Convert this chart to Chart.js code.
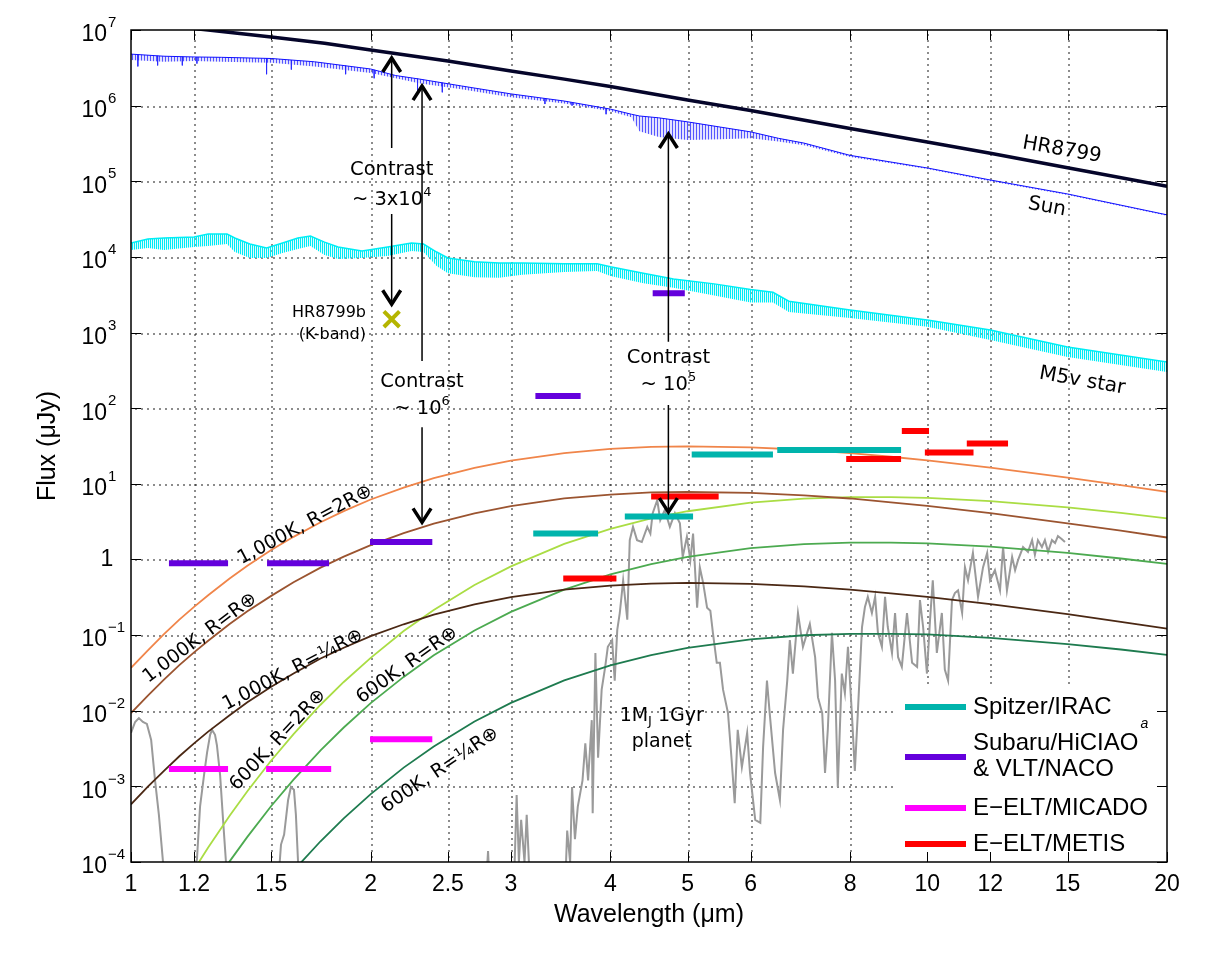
<!DOCTYPE html>
<html>
<head>
<meta charset="utf-8">
<title>Flux vs wavelength</title>
<script src="https://cdn.jsdelivr.net/npm/chart.js@4.4.1/dist/chart.umd.min.js"></script>
<style>
  body { margin: 0; background: #fff; }
  canvas { display: block; }
</style>
</head>
<body>
<canvas id="fluxChart" width="1218" height="953"></canvas>
<script>
// Wavelength in um, flux in uJy

const xTicks = [1, 1.2, 1.5, 2, 2.5, 3, 4, 5, 6, 8, 10, 12, 15, 20];
const yExponents = [-4, -3, -2, -1, 0, 1, 2, 3, 4, 5, 6, 7];

// HR8799 star
const hrWave = [1.2, 1.25, 1.5, 1.75, 2, 2.5, 3, 3.5, 4, 5, 6, 8, 10, 12, 15, 20];
const hrFlux = [1.05e7, 1.0e7, 8.1e6, 6.7e6, 5.45e6, 3.9e6, 2.87e6, 2.24e6, 1.79e6, 1.19e6, 8.6e5, 5.0e5, 3.3e5, 2.34e5, 1.51e5, 8.6e4];

// Sun: continuum and bottom of the absorption lines
const sunWave = [1.0, 1.1, 1.2, 1.3, 1.5, 1.7, 2.0, 2.15, 2.3, 2.6, 3.0, 3.5, 4.0, 4.25, 4.35, 4.6, 5.0, 5.5, 6.0, 6.5, 7.0, 8.0, 10, 12, 15, 20];
const sunTop = [4.8e6, 4.5e6, 4.4e6, 4.35e6, 4.2e6, 3.8e6, 3.05e6, 2.5e6, 2.25e6, 1.82e6, 1.43e6, 1.15e6, 9.0e5, 7.7e5, 7.3e5, 6.9e5, 6.1e5, 5.2e5, 4.5e5, 3.7e5, 3.2e5, 2.2e5, 1.5e5, 1.04e5, 6.8e4, 3.6e4];
const sunLow = [4.0e6, 3.8e6, 3.9e6, 3.8e6, 3.7e6, 3.3e6, 2.7e6, 2.3e6, 1.98e6, 1.65e6, 1.29e6, 1.07e6, 8.4e5, 7.0e5, 4.6e5, 3.85e5, 3.5e5, 3.6e5, 3.7e5, 3.35e5, 3.0e5, 2.1e5, 1.45e5, 1.0e5, 6.6e4, 3.5e4];

// a few of the deeper solar absorption lines: wavelength, flux at line bottom
const sunLineWave = [1.02, 1.08, 1.16, 1.21, 1.48, 1.59, 1.86, 2.02, 2.29, 2.46, 3.31, 3.58, 3.95];
const sunLineFlux = [3.3e6, 3.4e6, 3.4e6, 3.6e6, 2.6e6, 3.0e6, 2.6e6, 2.3e6, 1.55e6, 1.5e6, 1.05e6, 1.0e6, 7.7e5];

// M5v star: upper and lower edge of the spectrum band
const m5Wave = [1.0, 1.05, 1.1, 1.2, 1.25, 1.32, 1.35, 1.41, 1.48, 1.55, 1.62, 1.68, 1.75, 1.82, 1.95, 2.1, 2.25, 2.33, 2.42, 2.5, 2.7, 2.9, 3.1, 3.5, 3.85, 4.0, 4.4, 4.8, 5.4, 6.0, 6.4, 6.7, 8, 10, 12, 15, 20];
const m5Top = [1.53e4, 1.73e4, 1.78e4, 1.83e4, 2.01e4, 2.01e4, 1.78e4, 1.48e4, 1.31e4, 1.53e4, 1.78e4, 1.89e4, 1.57e4, 1.35e4, 1.20e4, 1.35e4, 1.53e4, 1.48e4, 1.16e4, 9.7e3, 8.6e3, 8.3e3, 8.3e3, 8.1e3, 8.1e3, 7.4e3, 6.1e3, 5.1e3, 4.4e3, 3.7e3, 3.4e3, 2.6e3, 1.99e3, 1.47e3, 1.08e3, 645, 408];
const m5Low = [1.23e4, 1.31e4, 1.23e4, 1.35e4, 1.39e4, 1.48e4, 1.16e4, 9.7e3, 9.7e3, 1.13e4, 1.27e4, 1.39e4, 1.06e4, 9.4e3, 9.7e3, 1.03e4, 1.20e4, 1.16e4, 7.6e3, 6.1e3, 5.4e3, 5.3e3, 5.8e3, 6.3e3, 6.5e3, 5.6e3, 4.5e3, 3.9e3, 3.1e3, 2.5e3, 2.5e3, 1.87e3, 1.56e3, 1.19e3, 798, 475, 301];

// blackbody planets
const modelWave = [1.0, 1.05, 1.1, 1.15, 1.2, 1.25, 1.33, 1.4, 1.5, 1.6, 1.73, 1.85, 2.0, 2.2, 2.4, 2.7, 3.0, 3.5, 4.0, 4.5, 5.0, 6.0, 7.0, 8.0, 9.0, 10, 12, 15, 17.5, 20];
const bb1000R2 = [0.037, 0.063, 0.103, 0.16, 0.236, 0.337, 0.56, 0.825, 1.33, 1.99, 3.1, 4.35, 6.2, 8.9, 11.9, 16.3, 20.3, 25.5, 28.9, 30.7, 31.3, 30.4, 28.2, 25.5, 22.8, 20.4, 16.4, 12.1, 9.6, 7.8];
const bb1000R1 = [0.0093, 0.0158, 0.0258, 0.04, 0.059, 0.084, 0.14, 0.206, 0.33, 0.5, 0.78, 1.09, 1.55, 2.23, 2.98, 4.07, 5.08, 6.4, 7.2, 7.7, 7.8, 7.6, 7.05, 6.4, 5.7, 5.1, 4.1, 3.0, 2.4, 1.95];
const bb1000Rq = [5.8e-4, 9.9e-4, 1.6e-3, 2.5e-3, 3.7e-3, 5.3e-3, 8.7e-3, 0.0129, 0.0207, 0.031, 0.049, 0.068, 0.097, 0.139, 0.186, 0.254, 0.317, 0.4, 0.45, 0.48, 0.49, 0.475, 0.44, 0.40, 0.356, 0.32, 0.256, 0.189, 0.15, 0.122];
const bb600R2 = [null, null, null, null, 7.9e-5, 1.55e-4, 4.1e-4, 8.6e-4, 2.2e-3, 4.9e-3, 0.012, 0.024, 0.05, 0.113, 0.215, 0.46, 0.81, 1.61, 2.54, 3.48, 4.34, 5.64, 6.37, 6.67, 6.68, 6.5, 5.9, 4.88, 4.13, 3.5];
const bb600R1 = [null, null, null, null, null, 3.9e-5, 1.02e-4, 2.15e-4, 5.5e-4, 1.23e-3, 3.0e-3, 6.0e-3, 0.0126, 0.028, 0.054, 0.115, 0.203, 0.40, 0.635, 0.87, 1.085, 1.41, 1.59, 1.67, 1.67, 1.63, 1.48, 1.22, 1.03, 0.875];
const bb600Rq = [null, null, null, null, null, null, null, null, 3.4e-5, 7.7e-5, 1.88e-4, 3.77e-4, 7.9e-4, 1.77e-3, 3.36e-3, 7.2e-3, 0.0127, 0.0252, 0.0397, 0.0544, 0.0678, 0.088, 0.0995, 0.104, 0.104, 0.102, 0.092, 0.076, 0.0645, 0.0547];

// 1 Mj, 1 Gyr planet model spectrum (5e-5 = off the bottom of the plot)
const planetWave = [1.000, 1.012, 1.023, 1.035, 1.047, 1.060, 1.072, 1.084, 1.097, 1.10, 1.17, 1.210, 1.221, 1.235, 1.246, 1.257, 1.264, 1.275, 1.282, 1.294, 1.305, 1.316, 1.323,
  1.530, 1.543, 1.557, 1.575, 1.588, 1.602, 1.611, 1.621, 1.63, 2.792, 2.808, 2.82, 3.027, 3.05, 3.07, 3.09, 3.12, 3.14, 3.17, 3.51, 3.53, 3.56,
  3.58, 3.61, 3.64, 3.69, 3.72, 3.75, 3.79, 3.80, 3.83, 3.86, 3.90, 3.94, 3.97, 4.02, 4.05, 4.08, 4.11, 4.15, 4.20, 4.23, 4.27, 4.32, 4.38, 4.45,
  4.49, 4.52, 4.58, 4.62, 4.68, 4.75, 4.82, 4.89, 4.93, 4.99, 5.04, 5.08, 5.14, 5.18, 5.23, 5.29, 5.34, 5.38, 5.44, 5.49, 5.54, 5.62, 5.68, 5.73,
  5.78, 5.85, 5.94, 5.99, 6.08, 6.17, 6.22, 6.29, 6.34, 6.44, 6.53, 6.59, 6.67, 6.72, 6.78, 6.88, 6.98, 7.12, 7.23, 7.29, 7.38, 7.44, 7.50, 7.59,
  7.66, 7.72, 7.81, 7.88, 7.95, 8.04, 8.11, 8.18, 8.28, 8.35, 8.42, 8.52, 8.60, 8.67, 8.77, 8.85, 8.92, 9.03, 9.11, 9.19, 9.29, 9.43, 9.57, 9.71,
  9.79, 9.88, 9.99, 10.08, 10.16, 10.28, 10.43, 10.52, 10.62, 10.74, 10.83, 10.93, 11.06, 11.15, 11.25, 11.41, 11.58, 11.75, 11.89, 11.99, 12.16,
  12.34, 12.45, 12.59, 12.78, 12.89, 13.00, 13.19, 13.38, 13.54, 13.65, 13.77, 13.93, 14.05, 14.18, 14.34, 14.47, 14.59, 14.76, 14.89];
const planetFlux = [5.1e-3, 7.1e-3, 8.0e-3, 7.1e-3, 6.7e-3, 4.1e-3, 1.2e-3, 4.2e-4, 1.0e-4, 5e-5, 5e-5, 1.07e-4, 5.4e-4, 1.4e-3, 2.8e-3, 4.8e-3, 5.6e-3, 4.8e-3, 3.5e-3, 1.4e-3, 3.6e-4, 1.0e-4, 5e-5,
  5e-5, 1.7e-4, 2.3e-4, 6.6e-4, 9.8e-4, 9.0e-4, 4.2e-4, 1.0e-4, 5e-5, 5e-5, 1.4e-4, 5e-5, 5e-5, 7.7e-4, 1.0e-4, 3.6e-4, 1.0e-4, 4.2e-4, 5e-5, 5e-5, 2.6e-4, 1.0e-4,
  9.8e-4, 2.0e-4, 5.4e-4, 1.2e-3, 3.7e-3, 1.2e-3, 7.5e-3, 4.4e-4, 0.058, 2.4e-3, 0.019, 0.038, 0.070, 0.086, 0.025, 0.117, 0.196, 0.53, 0.16, 1.8, 2.7, 1.8, 1.7, 2.7,
  2.2, 4.1, 6.1, 3.3, 4.5, 2.7, 4.1, 3.0, 1.08, 2.0, 0.98, 2.2, 0.23, 0.79, 0.49, 0.23, 0.21, 0.107, 0.043, 0.043, 0.019, 9.3e-3, 2.2e-3, 6.0e-4,
  5.6e-3, 1.8e-3, 5.1e-3, 1.5e-3, 3.6e-4, 3.3e-4, 3.3e-3, 0.025, 9.3e-3, 1.5e-3, 6.6e-4, 5.6e-3, 0.025, 0.086, 0.031, 0.196, 0.070, 0.14, 0.051, 0.015, 9.3e-3, 1.5e-3, 5.6e-3, 0.107,
  0.025, 9.8e-4, 0.031, 0.017, 0.070, 9.3e-3, 1.6e-3, 9.3e-3, 0.128, 0.235, 0.32, 0.196, 0.32, 0.107, 0.070, 0.32, 0.128, 0.058, 0.196, 0.051, 0.038, 0.196, 0.043, 0.038,
  0.29, 0.128, 0.031, 0.16, 0.53, 0.058, 0.196, 0.035, 0.025, 0.29, 0.36, 0.39, 0.196, 0.79, 0.53, 1.22, 0.32, 0.79, 1.22, 0.53, 0.72,
  0.39, 1.46, 0.39, 1.08, 0.72, 0.98, 1.46, 1.26, 1.8, 1.15, 1.8, 1.46, 1.8, 1.26, 1.8, 1.65, 2.04, 1.85, 1.7];

// instrument sensitivity bands: start, end, flux
const iracStart = [3.20, 4.17, 5.06, 6.48];
const iracEnd = [3.86, 5.08, 6.40, 9.27];
const iracFlux = [2.2, 3.7, 24.5, 28];
const nacoStart = [1.116, 1.482, 1.996, 3.22, 4.52];
const nacoEnd = [1.324, 1.773, 2.39, 3.67, 4.96];
const nacoFlux = [0.89, 0.89, 1.70, 145, 3300];
const micadoStart = [1.116, 1.478, 1.996];
const micadoEnd = [1.324, 1.784, 2.39];
const micadoFlux = [1.7e-3, 1.7e-3, 4.2e-3];
const metisStart = [3.49, 4.50, 7.91, 9.29, 9.93, 11.21];
const metisEnd = [4.07, 5.47, 9.27, 10.05, 11.43, 12.63];
const metisFlux = [0.56, 6.8, 21.3, 50, 26, 34];

// HR8799b K-band point
const hr8799bWave = [2.125];
const hr8799bFlux = [1500];

// contrast arrows: wavelength, tip flux at top and bottom, gap for text
const arrowWave = [2.125, 2.32, 4.73];
const arrowTop = [4.4e6, 1.87e6, 4.35e5];
const arrowBottom = [2300, 3.0, 4.1];
const arrowGapTop = [2.75e5, 421, 757];
const arrowGapBottom = [3.7e4, 56, 110];
const contrastExp = ['3x10|4', '10|6', '10|5'];
const contrastWordFlux = [1.41e5, 220, 460];
const contrastValueFlux = [5.65e4, 97, 202];

// rotated curve labels
const curveLabels = ['1,000K, R=2R\u2295', '1,000K, R=R\u2295', '1,000K, R=\u00bcR\u2295', '600K, R=2R\u2295', '600K, R=R\u2295', '600K, R=\u00bcR\u2295'];
const curveLabelWave = [1.654, 1.221, 1.597, 1.530, 2.222, 2.443];
const curveLabelFlux = [2.86, 0.0916, 0.0346, 4.1e-3, 0.040, 1.64e-3];
const curveLabelAngle = [-28, -37, -27.6, -47, -35.4, -34.3];

const starLabels = ['HR8799', 'Sun', 'M5v star'];
const starLabelWave = [14.76, 14.13, 15.65];
const starLabelFlux = [2.59e5, 4.58e4, 229];

function pts(xs, ys) {
    return xs.map((x, i) => ({ x: x, y: ys[i] }));
}

function segments(starts, ends, flux) {
    const out = [];
    starts.forEach((s, i) => {
        out.push({ x: s, y: flux[i] }, { x: ends[i], y: flux[i] }, { x: ends[i], y: null });
    });
    return out;
}

// each absorption line drawn from the continuum down to its bottom
function dips(xs, tops, lows, waves) {
    const out = [];
    lows.forEach((low, i) => {
        const w = waves[i];
        let k = 0;
        while (k < xs.length - 2 && xs[k + 1] < w) k++;
        const f = Math.log(w / xs[k]) / Math.log(xs[k + 1] / xs[k]);
        const top = Math.exp(Math.log(tops[k]) + f * Math.log(tops[k + 1] / tops[k]));
        out.push({ x: w, y: top }, { x: w, y: low }, { x: w, y: null });
    });
    return out;
}

function hatch(bg, line, step) {
    const c = document.createElement('canvas');
    c.width = step;
    c.height = 8;
    const g = c.getContext('2d');
    g.fillStyle = bg;
    g.fillRect(0, 0, step, 8);
    g.fillStyle = line;
    g.fillRect(0, 0, 1, 8);
    return g.createPattern(c, 'repeat');
}

function line(label, data, color, width, order) {
    return {
        label: label, data: data, borderColor: color, backgroundColor: color,
        borderWidth: width, pointRadius: 0, fill: false, tension: 0, order: order,
        borderCapStyle: 'butt', spanGaps: false
    };
}

const SANS = '"Liberation Sans", Arial, sans-serif';
const VERD = '"DejaVu Sans", Verdana, sans-serif';

// text with superscript / subscript pieces, centred on cx
function richText(ctx, parts, cx, cy, size, family) {
    let w = 0;
    parts.forEach(p => {
        ctx.font = (p[1] ? Math.round(size * 0.68) : size) + 'px ' + family;
        w += ctx.measureText(p[0]).width;
    });
    let xx = cx - w / 2;
    ctx.textAlign = 'left';
    ctx.textBaseline = 'middle';
    parts.forEach(p => {
        ctx.font = (p[1] ? Math.round(size * 0.68) : size) + 'px ' + family;
        let dy = 0;
        if (p[1] === 'sup') dy = -size * 0.4;
        if (p[1] === 'sub') dy = size * 0.28;
        ctx.fillText(p[0], xx, cy + dy);
        xx += ctx.measureText(p[0]).width;
    });
}

// dotted MATLAB-style grid
function drawGrid(chart) {
    const ctx = chart.ctx;
    const a = chart.chartArea;
    const xs = chart.scales.x;
    const ys = chart.scales.y;
    ctx.save();
    ctx.fillStyle = 'rgba(0,0,0,0.45)';
    xTicks.slice(1, -1).forEach(v => {
        const px = Math.round(xs.getPixelForValue(v));
        for (let yy = a.top + 4; yy < a.bottom - 2; yy += 6) ctx.fillRect(px, yy, 2, 2);
    });
    yExponents.slice(1, -1).forEach(e => {
        const py = Math.round(ys.getPixelForValue(Math.pow(10, e)));
        for (let xx = a.left + 4; xx < a.right - 2; xx += 6) ctx.fillRect(xx, py, 2, 2);
    });
    ctx.restore();
}

const overlay = {
    id: 'overlay',
    beforeDatasetsDraw(chart) {
        drawGrid(chart);
    },
    afterDatasetsDraw(chart) {
        const ctx = chart.ctx;
        const a = chart.chartArea;
        const xs = chart.scales.x;
        const ys = chart.scales.y;
        ctx.save();
        ctx.fillStyle = '#000';
        ctx.strokeStyle = '#000';

        // contrast arrows
        arrowWave.forEach((w, i) => {
            const px = xs.getPixelForValue(w);
            const t = ys.getPixelForValue(arrowTop[i]);
            const b = ys.getPixelForValue(arrowBottom[i]);
            const g1 = ys.getPixelForValue(arrowGapTop[i]);
            const g2 = ys.getPixelForValue(arrowGapBottom[i]);
            ctx.lineWidth = 1.5;
            ctx.beginPath();
            ctx.moveTo(px, t); ctx.lineTo(px, g1);
            ctx.moveTo(px, g2); ctx.lineTo(px, b);
            ctx.stroke();
            ctx.lineWidth = 3.5;
            ctx.lineJoin = 'miter';
            ctx.beginPath();
            ctx.moveTo(px - 9, t + 15); ctx.lineTo(px, t + 1); ctx.lineTo(px + 9, t + 15);
            ctx.moveTo(px - 9, b - 15); ctx.lineTo(px, b - 1); ctx.lineTo(px + 9, b - 15);
            ctx.stroke();
            const word = ys.getPixelForValue(contrastWordFlux[i]);
            const val = ys.getPixelForValue(contrastValueFlux[i]);
            ctx.font = '19.5px ' + VERD;
            ctx.textAlign = 'center';
            ctx.textBaseline = 'middle';
            ctx.fillText('Contrast', px, word);
            const bits = contrastExp[i].split('|');
            richText(ctx, [['~ ' + bits[0]], [bits[1], 'sup']], px, val, 19.5, VERD);
        });

        // HR8799b text
        ctx.font = '16px ' + VERD;
        ctx.textAlign = 'right';
        ctx.textBaseline = 'middle';
        ctx.fillText('HR8799b', xs.getPixelForValue(1.973), ys.getPixelForValue(1830));
        ctx.fillText('(K-band)', xs.getPixelForValue(1.973), ys.getPixelForValue(930));

        // rotated labels
        ctx.textAlign = 'center';
        ctx.font = '19px ' + VERD;
        curveLabels.forEach((t, i) => {
            ctx.save();
            ctx.translate(xs.getPixelForValue(curveLabelWave[i]), ys.getPixelForValue(curveLabelFlux[i]));
            ctx.rotate(curveLabelAngle[i] * Math.PI / 180);
            ctx.fillText(t, 0, 0);
            ctx.restore();
        });
        ctx.font = '20px ' + VERD;
        starLabels.forEach((t, i) => {
            ctx.save();
            ctx.translate(xs.getPixelForValue(starLabelWave[i]), ys.getPixelForValue(starLabelFlux[i]));
            ctx.rotate(10 * Math.PI / 180);
            ctx.fillText(t, 0, 0);
            ctx.restore();
        });

        // planet text
        const ppx = xs.getPixelForValue(4.64);
        richText(ctx, [['1M'], ['J', 'sub'], [' 1Gyr']], ppx, ys.getPixelForValue(8.5e-3), 19, VERD);
        ctx.font = '19px ' + VERD;
        ctx.textAlign = 'center';
        ctx.fillText('planet', ppx, ys.getPixelForValue(3.86e-3));

        // legend
        ctx.fillStyle = '#fff';
        ctx.fillRect(a.right - 274, a.bottom - 174, 273, 173);
        const items = [
            { color: '#00b4ac', y: 707, text: [['Spitzer/IRAC', 707]] },
            { color: '#6400dc', y: 757, text: [['Subaru/HiCIAO', 743], ['& VLT/NACO', 769]] },
            { color: '#ff00ff', y: 808, text: [['E\u2212ELT/MICADO', 808]] },
            { color: '#ff0000', y: 844, text: [['E\u2212ELT/METIS', 844]] }
        ];
        ctx.font = '24px ' + SANS;
        const subaruW = ctx.measureText('Subaru/HiCIAO').width;
        items.forEach(it => {
            ctx.strokeStyle = it.color;
            ctx.lineWidth = 6;
            ctx.lineCap = 'butt';
            ctx.beginPath();
            ctx.moveTo(a.right - 262, it.y);
            ctx.lineTo(a.right - 201, it.y);
            ctx.stroke();
            ctx.fillStyle = '#000';
            ctx.font = '24px ' + SANS;
            ctx.textAlign = 'left';
            ctx.textBaseline = 'middle';
            it.text.forEach(tx => ctx.fillText(tx[0], a.right - 194, tx[1]));
        });
        ctx.font = 'italic 14px ' + SANS;
        ctx.fillText('a', a.right - 194 + subaruW + 2, 724);
        ctx.restore();
    },
    afterDraw(chart) {
        const ctx = chart.ctx;
        const a = chart.chartArea;
        const xs = chart.scales.x;
        const ys = chart.scales.y;
        ctx.save();
        ctx.strokeStyle = '#000';
        ctx.fillStyle = '#000';
        ctx.lineWidth = 1;
        ctx.beginPath();
        xTicks.forEach(v => {
            const px = Math.round(xs.getPixelForValue(v)) + 0.5;
            ctx.moveTo(px, a.bottom); ctx.lineTo(px, a.bottom - 10);
            ctx.moveTo(px, a.top); ctx.lineTo(px, a.top + 10);
        });
        yExponents.forEach(e => {
            const py = Math.round(ys.getPixelForValue(Math.pow(10, e))) + 0.5;
            ctx.moveTo(a.left, py); ctx.lineTo(a.left + 10, py);
            ctx.moveTo(a.right, py); ctx.lineTo(a.right - 10, py);
        });
        ctx.stroke();
        ctx.lineWidth = 1.5;
        ctx.strokeRect(a.left, a.top, a.right - a.left, a.bottom - a.top);

        // tick labels
        ctx.font = '23px ' + SANS;
        ctx.textAlign = 'center';
        ctx.textBaseline = 'middle';
        xTicks.forEach(v => ctx.fillText(String(v), xs.getPixelForValue(v), a.bottom + 23));
        yExponents.forEach(e => {
            const py = ys.getPixelForValue(Math.pow(10, e));
            if (e === 0) {
                ctx.font = '23px ' + SANS;
                ctx.textAlign = 'center';
                ctx.fillText('1', a.left - 24, py);
                return;
            }
            ctx.font = '23px ' + SANS;
            ctx.textAlign = 'right';
            ctx.fillText('10', a.left - 24, py + 5);
            ctx.font = '15px ' + SANS;
            ctx.textAlign = 'left';
            ctx.fillText(e < 0 ? '\u2212' + (-e) : String(e), a.left - 23, py - 7);
        });

        // axis titles
        ctx.font = '25px ' + SANS;
        ctx.textAlign = 'center';
        ctx.fillText('Wavelength (\u03bcm)', (a.left + a.right) / 2, a.bottom + 53);
        ctx.save();
        ctx.translate(48, (a.top + a.bottom) / 2);
        ctx.rotate(-Math.PI / 2);
        ctx.fillText('Flux (\u03bcJy)', 0, 0);
        ctx.restore();
        ctx.restore();
    }
};

function createFluxChart() {
    const ctx = document.getElementById('fluxChart').getContext('2d');
    const sunHatch = hatch('rgba(110,110,255,0.2)', 'rgba(50,50,255,0.8)', 3);
    const m5Hatch = hatch('rgba(150,245,250,0.3)', 'rgba(0,235,245,1)', 2);

    const sunLine = line('Sun', pts(sunWave, sunTop), '#1010ff', 1, 3);
    const sunBand = line('Sun lines', pts(sunWave, sunLow), 'rgba(0,0,0,0)', 0, 4);
    sunBand.fill = '-1';
    sunBand.backgroundColor = sunHatch;
    const m5Line = line('M5v star', pts(m5Wave, m5Top), '#00eef5', 1.5, 3);
    const m5Band = line('M5v band', pts(m5Wave, m5Low), 'rgba(0,0,0,0)', 0, 4);
    m5Band.fill = '-1';
    m5Band.backgroundColor = m5Hatch;

    const marker = {
        label: 'HR8799b', data: pts(hr8799bWave, hr8799bFlux), showLine: false,
        pointStyle: 'crossRot', pointRadius: 11, pointBorderWidth: 4,
        borderColor: '#b5b500', backgroundColor: '#b5b500', order: 0
    };

    new Chart(ctx, {
        type: 'line',
        data: {
            datasets: [
                marker,
                line('Spitzer/IRAC', segments(iracStart, iracEnd, iracFlux), '#00b4ac', 6, 1),
                line('Subaru/HiCIAO & VLT/NACO', segments(nacoStart, nacoEnd, nacoFlux), '#6400dc', 6, 1),
                line('E-ELT/MICADO', segments(micadoStart, micadoEnd, micadoFlux), '#ff00ff', 6, 1),
                line('E-ELT/METIS', segments(metisStart, metisEnd, metisFlux), '#ff0000', 6, 1),
                line('HR8799', pts(hrWave, hrFlux), '#05052a', 3.5, 2),
                sunLine, sunBand,
                m5Line, m5Band,
                line('Sun absorption', dips(sunWave, sunTop, sunLineFlux, sunLineWave), 'rgba(40,40,255,0.85)', 1, 3),
                line('1000K 2Re', pts(modelWave, bb1000R2), '#f0854a', 1.8, 5),
                line('1000K 1Re', pts(modelWave, bb1000R1), '#9b5430', 1.8, 5),
                line('1000K 0.25Re', pts(modelWave, bb1000Rq), '#4b2814', 1.8, 5),
                line('600K 2Re', pts(modelWave, bb600R2), '#aadd44', 1.8, 5),
                line('600K 1Re', pts(modelWave, bb600R1), '#4caa50', 1.8, 5),
                line('600K 0.25Re', pts(modelWave, bb600Rq), '#1e7b4f', 1.8, 5),
                line('1Mj 1Gyr planet', pts(planetWave, planetFlux), '#9a9a9a', 2, 6)
            ]
        },
        options: {
            responsive: false,
            animation: false,
            layout: { padding: { left: 131, right: 51, top: 30, bottom: 91 } },
            scales: {
                x: {
                    type: 'logarithmic', min: 1, max: 20,
                    afterBuildTicks: axis => { axis.ticks = xTicks.map(v => ({ value: v })); },
                    ticks: { display: false },
                    grid: { display: false, drawTicks: false },
                    border: { display: false }
                },
                y: {
                    type: 'logarithmic', min: 1e-4, max: 1e7,
                    afterBuildTicks: axis => { axis.ticks = yExponents.map(e => ({ value: Math.pow(10, e) })); },
                    ticks: { display: false },
                    grid: { display: false, drawTicks: false },
                    border: { display: false }
                }
            },
            plugins: {
                legend: { display: false },
                tooltip: { enabled: false }
            }
        },
        plugins: [overlay]
    });
}

document.addEventListener('DOMContentLoaded', () => {
    createFluxChart();
});
</script>
</body>
</html>
